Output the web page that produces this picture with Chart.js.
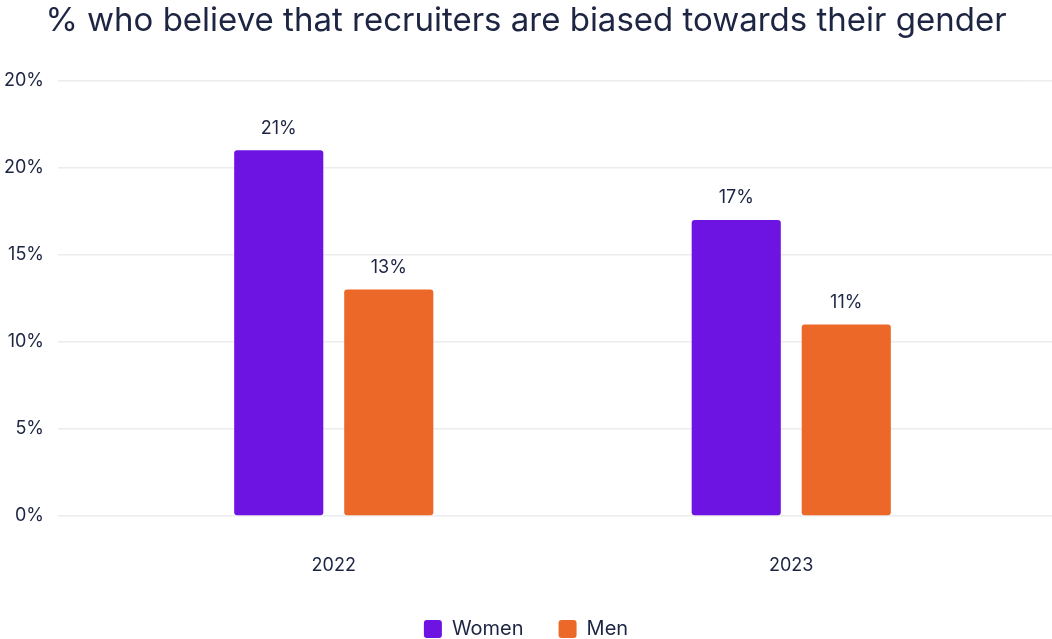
<!DOCTYPE html>
<html>
<head>
<meta charset="utf-8">
<script src="https://cdn.jsdelivr.net/npm/chart.js@4"></script>
<style>
  html, body { margin: 0; padding: 0; background: #fff; }
  #wrap { width: 1052px; height: 639px; }
</style>
</head>
<body>
<div id="wrap"><canvas id="chart"></canvas></div>
<script>
// survey answers, % per year and gender
const years = ["2022", "2023"];
const women = [21, 17];
const men   = [13, 11];
const yTickLabels = ["0%", "5%", "10%", "15%", "20%", "20%"];

const INK = "#1d2543";
const GRID = "#ececec";
const FONT = "Inter, 'Noto Sans', sans-serif";

// value labels above each bar
const barLabels = {
  id: "barLabels",
  afterDatasetsDraw(chart) {
    const ctx = chart.ctx;
    ctx.save();
    ctx.font = `18px ${FONT}`;
    ctx.fillStyle = INK;
    ctx.textAlign = "center";
    ctx.textBaseline = "middle";
    chart.data.datasets.forEach((ds, di) => {
      chart.getDatasetMeta(di).data.forEach((bar, i) => {
        ctx.fillText(ds.data[i] + "%", bar.x, bar.y - 22);
      });
    });
    ctx.restore();
  }
};

new Chart(document.getElementById("chart"), {
  type: "bar",
  data: {
    labels: years,
    datasets: [
      { label: "Women", data: women, backgroundColor: "#6e14e2", borderRadius: 3, borderSkipped: false },
      { label: "Men",   data: men,   backgroundColor: "#ec6829", borderRadius: 3, borderSkipped: false }
    ]
  },
  options: {
    responsive: true,
    maintainAspectRatio: false,
    animation: false,
    categoryPercentage: 0.481,
    barPercentage: 0.81,
    layout: { padding: 0 },
    plugins: {
      title: {
        display: true,
        text: "% who believe that recruiters are biased towards their gender",
        color: INK,
        font: { family: FONT, size: 33, weight: "normal" },
        padding: { top: 1, bottom: 40 }
      },
      legend: {
        position: "bottom",
        maxHeight: 55,
        labels: {
          color: INK,
          font: { family: FONT, size: 20 },
          boxWidth: 18,
          boxHeight: 18,
          useBorderRadius: true,
          borderRadius: 3,
          padding: 35
        }
      },
      tooltip: { enabled: false }
    },
    scales: {
      x: {
        grid: { display: false },
        border: { display: false },
        ticks: { color: INK, font: { family: FONT, size: 18 }, padding: 31 },
        afterFit: s => { s.height = 68; }
      },
      y: {
        min: 0, max: 25,
        ticks: {
          stepSize: 5,
          color: INK,
          font: { family: FONT, size: 18 },
          padding: 14,
          callback: (v, i) => yTickLabels[i]
        },
        grid: { color: GRID, lineWidth: 1.5, tickLength: 47, tickColor: GRID },
        border: { display: false },
        afterFit: s => { s.width = 105; }
      },
      yRight: {
        position: "right",
        min: 0, max: 25,
        ticks: { stepSize: 5, display: false },
        grid: { color: GRID, lineWidth: 1.5, tickLength: 32, tickColor: GRID, drawOnChartArea: false },
        border: { display: false },
        afterFit: s => { s.width = 32; }
      }
    }
  },
  plugins: [barLabels]
});
</script>
</body>
</html>
